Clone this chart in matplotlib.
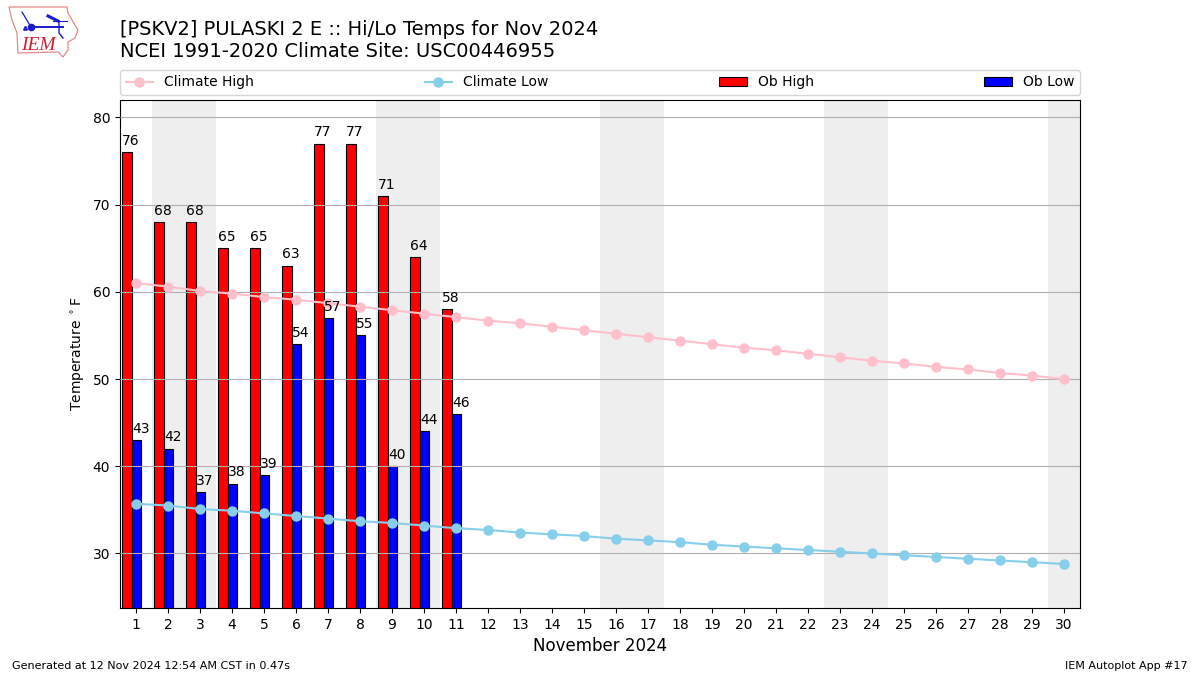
import matplotlib
matplotlib.use("Agg")
import matplotlib.pyplot as plt
from matplotlib.patches import Polygon
from matplotlib.lines import Line2D

days = list(range(1, 31))
ob_high = [76, 68, 68, 65, 65, 63, 77, 77, 71, 64, 58]
ob_low = [43, 42, 37, 38, 39, 54, 57, 55, 40, 44, 46]
climate_high = [61.0, 60.6, 60.1, 59.8, 59.4, 59.1, 58.7, 58.3, 57.9, 57.5,
                57.1, 56.7, 56.4, 56.0, 55.6, 55.2, 54.8, 54.4, 54.0, 53.6,
                53.3, 52.9, 52.5, 52.1, 51.8, 51.4, 51.1, 50.7, 50.4, 50.0]
climate_low = [35.7, 35.5, 35.1, 34.9, 34.6, 34.3, 34.0, 33.7, 33.5, 33.2,
               32.9, 32.7, 32.4, 32.2, 32.0, 31.7, 31.5, 31.3, 31.0, 30.8,
               30.6, 30.4, 30.2, 30.0, 29.8, 29.6, 29.4, 29.2, 29.0, 28.8]
weekend_spans = [(1.5, 3.5), (8.5, 10.5), (15.5, 17.5), (22.5, 24.5), (29.5, 30.5)]

W, H = 1200, 675
fig = plt.figure(figsize=(12, 6.75), dpi=100)
ax = fig.add_axes([120 / W, 1 - 608 / H, 960 / W, 508 / H])

for a, b in weekend_spans:
    ax.axvspan(a, b, color="#eeeeee", lw=0, zorder=0)

width = 0.3
high_x = [d - 0.28 for d in days[:len(ob_high)]]
low_x = [d + 0.02 for d in days[:len(ob_low)]]
ax.bar(high_x, ob_high, width=width, color="red", edgecolor="black", lw=0.8,
       label="Ob High", zorder=2)
ax.bar(low_x, ob_low, width=width, color="blue", edgecolor="black", lw=0.8,
       label="Ob Low", zorder=2)
ax.yaxis.grid(True, color="#b0b0b0", lw=0.8, zorder=2.5)
ax.set_axisbelow(False)
ax.xaxis.grid(False)

ax.plot(days, climate_high, color="pink", marker="o", ms=6.5, lw=1.5,
        label="Climate High", zorder=3)
ax.plot(days, climate_low, color="skyblue", marker="o", ms=6.5, lw=1.5,
        label="Climate Low", zorder=3)

for x, v in zip(high_x, ob_high):
    ax.text(x - 0.15, v + 0.5, str(v), ha="left", va="bottom", fontsize=10, zorder=4)
for x, v in zip(low_x, ob_low):
    ax.text(x - 0.15, v + 0.5, str(v), ha="left", va="bottom", fontsize=10, zorder=4)

ax.set_xlim(0.5, 30.5)
ax.set_ylim(23.75, 82)
ax.set_xticks(days)
ax.set_yticks([30, 40, 50, 60, 70, 80])
ax.tick_params(axis="both", labelsize=10)
ax.set_ylabel(r"Temperature $^\circ$F", fontsize=10)
ax.set_xlabel("November 2024", fontsize=12)

handles, labels = ax.get_legend_handles_labels()
order = [labels.index(n) for n in ("Climate High", "Climate Low", "Ob High", "Ob Low")]
ax.legend([handles[i] for i in order], [labels[i] for i in order],
          loc="lower left", bbox_to_anchor=(0, 1 + 5 / 508, 1, 0.05), mode="expand", ncol=4,
          borderaxespad=0, fontsize=10)

fig.text(120 / W, 1 - 61 / H, "[PSKV2] PULASKI 2 E :: Hi/Lo Temps for Nov 2024\n"
         "NCEI 1991-2020 Climate Site: USC00446955", fontsize=14, ha="left", va="bottom",
         linespacing=1.2)
fig.text(12 / W, 1 - 671 / H, "Generated at 12 Nov 2024 12:54 AM CST in 0.47s", fontsize=8,
         ha="left", va="bottom")
fig.text(1188 / W, 1 - 671 / H, "IEM Autoplot App #17", fontsize=8, ha="right", va="bottom")

# IEM logo, drawn in pixel coordinates
logo = fig.add_axes([0, 1 - 62 / H, 90 / W, 62 / H])
logo.set_xlim(0, 90)
logo.set_ylim(62, 0)
logo.axis("off")
outline = [(9, 7), (67, 7), (68, 13), (72, 20), (78, 30), (75, 38), (68, 42), (68, 50),
           (63, 57), (58, 52), (18, 53), (17, 33), (12, 20)]
logo.add_patch(Polygon(outline, closed=True, fill=False, edgecolor="#e58a8a", lw=0.9))
blue = "#1a1ad0"
logo.add_line(Line2D([31, 63], [27, 27], color=blue, lw=1.4))
logo.add_line(Line2D([31], [27], marker="o", ms=4.5, color=blue))
logo.add_line(Line2D([22, 31], [12, 27], color=blue, lw=0.9))
logo.add_line(Line2D([48, 58], [16, 21], color=blue, lw=2.2))
logo.add_line(Line2D([53, 67], [21, 21], color=blue, lw=0.8))
logo.add_line(Line2D([59, 59, 63], [22, 33, 38], color=blue, lw=1))
logo.add_line(Line2D([24, 26, 25], [29, 29, 27], color=blue, ls="", marker=".", ms=2))
logo.text(21, 45, "IEM", color="#d02030", fontsize=14, family="Liberation Serif",
          style="italic", ha="left", va="center")

fig.savefig("out.png", dpi=100)
